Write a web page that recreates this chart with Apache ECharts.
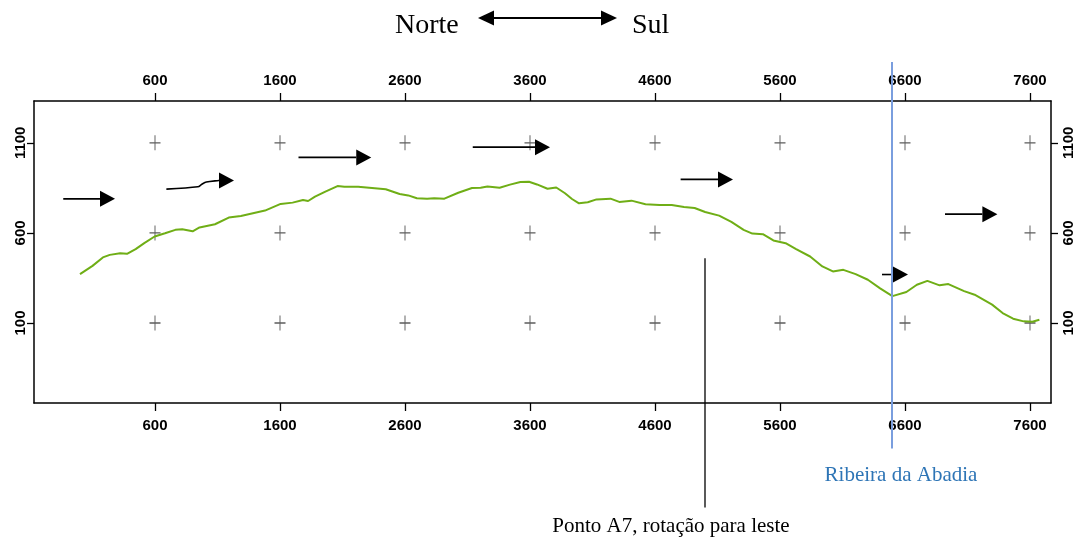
<!DOCTYPE html>
<html><head><meta charset="utf-8">
<script src="https://cdn.jsdelivr.net/npm/echarts@6/dist/echarts.min.js"></script>
<style>html,body{margin:0;padding:0;background:#fff}#c{width:1078px;height:540px}</style>
</head><body><div id="c"></div>
<script>
// ---- data ----
const xTicks = [600, 1600, 2600, 3600, 4600, 5600, 6600, 7600];
const yTicks = [100, 600, 1100];
const profileX = [0,100,183,238,321,376,445,514,597,680,763,818,901,956,1080,1190,1287,1480,1605,1701,1784,1825,1880,1963,2060,2115,2225,2336,2446,2557,2626,2695,2777,2833,2915,3026,3136,3205,3260,3357,3440,3523,3592,3656,3740,3810,3880,3936,3992,4062,4132,4244,4314,4412,4524,4636,4734,4832,4917,5001,5113,5211,5309,5379,5463,5547,5645,5729,5841,5939,6023,6107,6205,6303,6401,6499,6611,6695,6779,6877,6947,7073,7157,7297,7381,7465,7549,7619,7675];
const profileY = [371,417,464,478,487,484,510,543,580,598,617,620,609,630,648,685,694,724,761,768,783,777,801,829,860,856,856,849,842,816,808,792,790,792,790,823,849,851,858,851,868,882,884,869,845,852,820,788,764,770,786,790,772,779,759,755,755,744,738,716,696,661,617,596,593,558,543,510,469,414,386,395,371,340,292,249,272,312,334,309,316,277,257,202,155,124,109,107,118];
// wind/rotation arrows: polyline points, last point = arrow tip
const windArrows = [
  [[-134, 789], [280, 789]],
  [[691, 843], [943, 856], [975, 870], [1011, 882], [1110, 891], [1232, 891]],
  [[1748, 1019], [2330, 1019]],
  [[3142, 1076], [3760, 1076]],
  [[4805, 897], [5224, 897]],
  [[6416, 369], [6624, 369]],
  [[6920, 704], [7339, 704]]
];
const riverX = 6496, riverLineY = [1548, -596];
const pontoX = 5000, pontoLineY = [459, -924];
const titleLeft = 'Norte', titleRight = 'Sul';
const riverLabel = 'Ribeira da Abadia';
const pontoLabel = 'Ponto A7, rotação para leste';

// ---- chart ----
const chart = echarts.init(document.getElementById('c'), null, {renderer: 'canvas'});
const axFont = "'Liberation Sans Narrow','Arial Narrow','Liberation Sans',Arial,sans-serif";
const serif = "'Liberation Serif','Times New Roman',serif";
const plain = v => String(v);
function xAx(pos, margin) {
  return {
    type: 'value', position: pos, min: -368, max: 7768,
    axisLine: {show: true, onZero: false, lineStyle: {color: '#000', width: 1.5}},
    axisTick: {show: true, customValues: xTicks, length: 8, lineStyle: {color: '#000', width: 1.3}},
    axisLabel: {customValues: xTicks, formatter: plain, margin: margin, color: '#000', fontWeight: 'bold', fontSize: 15, fontFamily: axFont},
    splitLine: {show: false}
  };
}
function yAx(pos, margin) {
  return {
    type: 'value', position: pos, min: -344, max: 1332,
    axisLine: {show: true, onZero: false, lineStyle: {color: '#000', width: 1.5}},
    axisTick: {show: true, customValues: yTicks, length: 7, lineStyle: {color: '#000', width: 1.3}},
    axisLabel: {customValues: yTicks, formatter: plain, rotate: 90, margin: margin, color: '#000', fontWeight: 'bold', fontSize: 15, fontFamily: axFont},
    splitLine: {show: false}
  };
}
const crosses = [];
xTicks.forEach(x => yTicks.forEach(y => crosses.push([x, y])));

function renderArrow(params, api) {
  const pts = windArrows[params.dataIndex].map(p => api.coord(p));
  const tip = pts[pts.length - 1], prev = pts[pts.length - 2];
  const dx = tip[0] - prev[0], dy = tip[1] - prev[1];
  const L = Math.hypot(dx, dy), ux = dx / L, uy = dy / L;
  const HL = 15, HW = 8;
  const base = [tip[0] - ux * HL, tip[1] - uy * HL];
  const linePts = pts.slice(0, -1).concat([base]);
  return {type: 'group', children: [
    {type: 'polyline', shape: {points: linePts, smooth: linePts.length > 2 ? 0.3 : 0}, style: {stroke: '#000', lineWidth: 1.6, fill: null}},
    {type: 'polygon', shape: {points: [tip, [base[0] - uy * HW, base[1] + ux * HW], [base[0] + uy * HW, base[1] - ux * HW]]}, style: {fill: '#000'}}
  ]};
}
function renderVLine(color, width, x, ys) {
  return function (params, api) {
    const a = api.coord([x, ys[0]]), b = api.coord([x, ys[1]]);
    return {type: 'line', shape: {x1: a[0], y1: a[1], x2: b[0], y2: b[1]}, style: {stroke: color, lineWidth: width}};
  };
}

chart.setOption({
  animation: false,
  backgroundColor: '#fff',
  grid: {left: 34, right: 27, top: 101, bottom: 137, containLabel: false},
  xAxis: [xAx('bottom', 15), xAx('top', 13)],
  yAxis: [yAx('left', 6), yAx('right', 10)],
  series: [
    {type: 'scatter', data: crosses, symbol: 'path://M0,7.5H11M5.5,0V15', symbolSize: [11, 15],
     itemStyle: {color: 'transparent', borderColor: '#333', borderWidth: 1.1}, silent: true, z: 1},
    {type: 'line', data: profileX.map((x, i) => [x, profileY[i]]), showSymbol: false, symbol: 'none',
     lineStyle: {color: '#6fae16', width: 2}, z: 3},
    {type: 'custom', data: windArrows.map(a => a[a.length - 1]), renderItem: renderArrow, clip: false, z: 4, silent: true},
    {type: 'custom', data: [[riverX, riverLineY[0]]], renderItem: renderVLine('#7a9ede', 2, riverX, riverLineY), clip: false, z: 5, silent: true},
    {type: 'custom', data: [[pontoX, pontoLineY[0]]], renderItem: renderVLine('#000', 1.3, pontoX, pontoLineY), clip: false, z: 5, silent: true}
  ],
  graphic: [
    {type: 'text', left: 395, top: 12, style: {text: titleLeft, font: '28px ' + serif, fill: '#000'}},
    {type: 'text', left: 632, top: 12, style: {text: titleRight, font: '28px ' + serif, fill: '#000'}},
    {type: 'line', shape: {x1: 492, y1: 18, x2: 603, y2: 18}, style: {stroke: '#000', lineWidth: 2}},
    {type: 'polygon', shape: {points: [[478, 18], [494, 10.5], [494, 25.5]]}, style: {fill: '#000'}},
    {type: 'polygon', shape: {points: [[617, 18], [601, 10.5], [601, 25.5]]}, style: {fill: '#000'}},
    {type: 'text', x: 901, y: 475, style: {text: riverLabel, font: '21px ' + serif, fill: '#2e75b6', align: 'center', verticalAlign: 'middle'}},
    {type: 'text', x: 671, y: 526, style: {text: pontoLabel, font: '21px ' + serif, fill: '#000', align: 'center', verticalAlign: 'middle'}}
  ]
});
</script></body></html>
